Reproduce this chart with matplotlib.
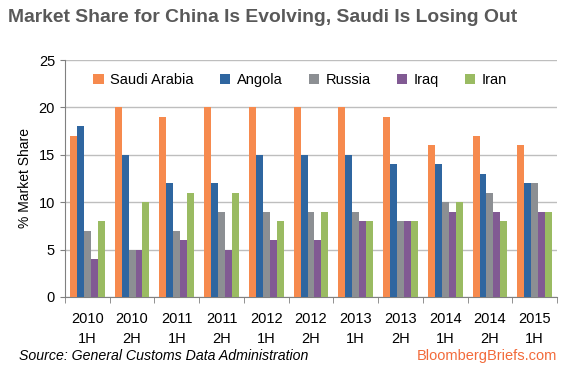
import matplotlib
matplotlib.use("Agg")
import matplotlib.pyplot as plt
import numpy as np

categories = ["2010\n1H", "2010\n2H", "2011\n1H", "2011\n2H", "2012\n1H", "2012\n2H",
              "2013\n1H", "2013\n2H", "2014\n1H", "2014\n2H", "2015\n1H"]
series_names = ["Saudi Arabia", "Angola", "Russia", "Iraq", "Iran"]
saudi = [17, 20, 19, 20, 20, 20, 20, 19, 16, 17, 16]
angola = [18, 15, 12, 12, 15, 15, 15, 14, 14, 13, 12]
russia = [7, 5, 7, 9, 9, 9, 9, 8, 10, 11, 12]
iraq = [4, 5, 6, 5, 6, 6, 8, 8, 9, 9, 9]
iran = [8, 10, 11, 11, 8, 9, 8, 8, 10, 8, 9]
yticks = [0, 5, 10, 15, 20, 25]

colors = ["#F68A4E", "#2F66A0", "#8C8F93", "#815A93", "#9ABB62"]
data = [saudi, angola, russia, iraq, iran]

plt.rcParams['font.family'] = ['Liberation Sans', 'DejaVu Sans']
fig = plt.figure(figsize=(5.66, 3.70), dpi=100)
ax = fig.add_axes([65/566, 1-297/370, (557-65)/566, (297-60)/370])

x = np.arange(len(categories))
w = 0.155
for i, (name, vals, c) in enumerate(zip(series_names, data, colors)):
    ax.bar(x + (i - 2) * w, vals, width=w, color=c, label=name, zorder=3)

ax.set_xlim(-0.5, len(categories) - 0.5)
ax.set_ylim(0, 25)
ax.set_yticks(yticks)
ax.yaxis.grid(True, color="#BEBEBE", linewidth=1, zorder=0)
ax.set_xticks(x)
ax.set_xticklabels(categories, fontsize=10.5, linespacing=1.6)
ax.set_xticks(np.arange(-0.5, len(categories), 1), minor=True)
ax.tick_params(axis='x', which='major', length=0, pad=10.5)
ax.tick_params(axis='x', which='minor', length=4, color="#808080", direction='out')
ax.tick_params(axis='y', length=3.6, color="#808080", labelsize=10.5, pad=3.6)
for s in ["top", "right"]:
    ax.spines[s].set_visible(False)
ax.spines["left"].set_color("#808080")
ax.spines["bottom"].set_color("#808080")
ax.set_ylabel("% Market Share", fontsize=10, labelpad=5)

leg = ax.legend(ncol=5, loc="upper center", bbox_to_anchor=(0.478, 1.0), frameon=False,
                fontsize=10.5, handlelength=0.7, handleheight=0.7, handletextpad=0.45,
                columnspacing=1.8)

fig.text(8/566, 1-17/370, "Market Share for China Is Evolving, Saudi Is Losing Out",
         fontsize=13.9, fontweight="bold", color="#595959", va="center", ha="left")
fig.text(19/566, 1-356/370, "Source: General Customs Data Administration",
         fontsize=10.2, style="italic", color="#000000", va="center", ha="left")
fig.text(557/566, 1-356/370, "BloombergBriefs.com", fontsize=10.5, color="#F26A3A",
         va="center", ha="right")

fig.savefig("out.png", dpi=100)
